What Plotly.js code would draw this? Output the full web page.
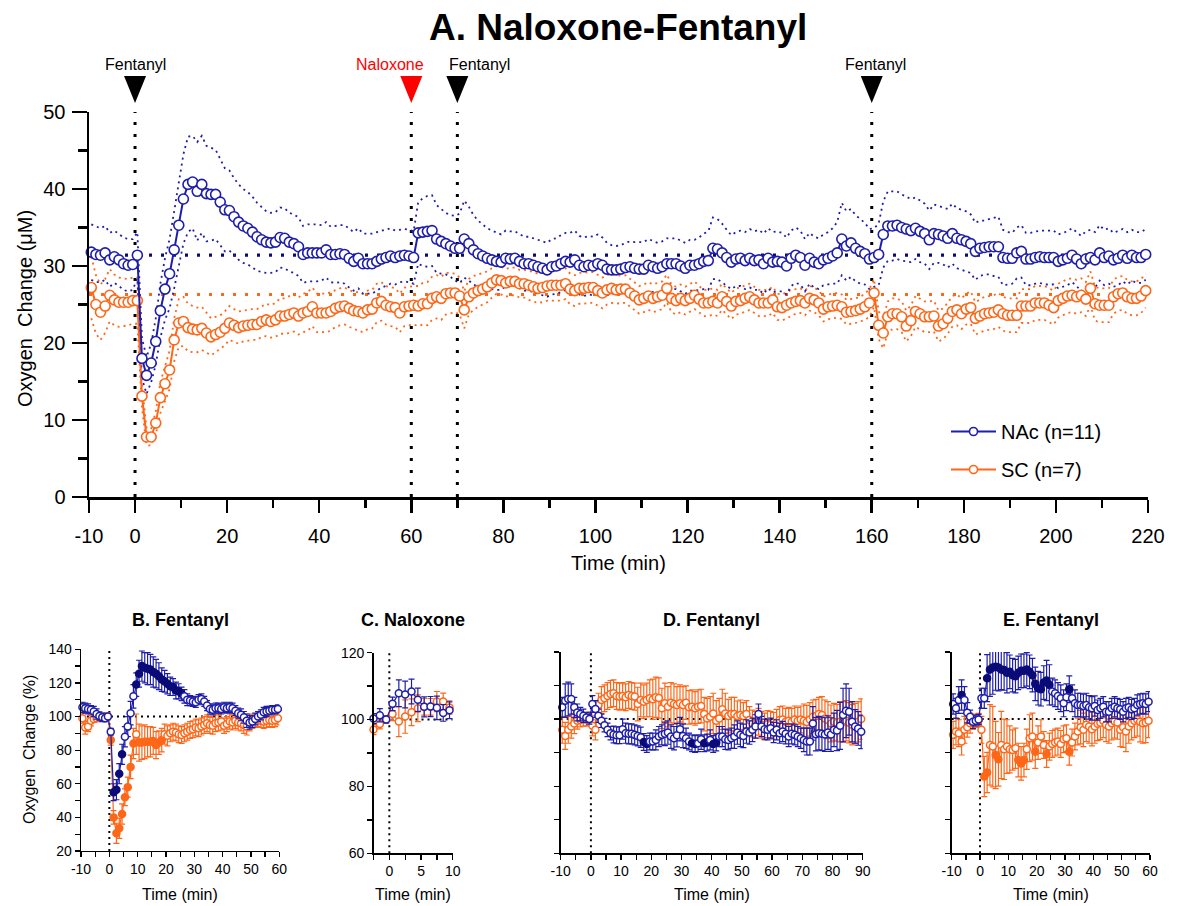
<!DOCTYPE html>
<html><head><meta charset="utf-8">
<script src="https://cdn.plot.ly/plotly-3.0.1.min.js"></script>
<style>html,body{margin:0;padding:0;background:#fff}#chart{width:1178px;height:906px}</style>
</head><body><div id="chart"></div>
<script>
// ---------------- DATA ----------------
// Main panel A: one sample per minute, first sample at -9.5 min
const mainStart = -9.5;
const nacMean = [
31.8,31.5,31.4,31.7,30.8,31.2,30.8,30.3,30.1,30.2,
31.4,18.0,15.8,17.4,20.2,24.2,27.0,29.0,32.1,35.3,
38.7,40.6,40.9,39.7,40.6,39.4,39.3,39.3,38.3,37.3,
37.2,36.4,35.7,35.2,34.9,34.4,33.8,33.4,33.1,33.0,
33.1,33.7,33.6,33.1,32.9,32.5,31.5,31.7,31.7,31.7,
31.7,32.1,31.5,31.5,31.6,31.5,31.0,30.6,31.0,30.3,
30.3,30.3,30.6,30.9,31.1,31.3,31.1,31.3,31.4,31.3,
31.1,34.3,34.4,34.5,34.6,33.5,33.2,32.9,32.6,32.3,
32.3,33.5,32.9,32.1,31.6,31.3,31.0,30.8,30.6,30.5,
31.0,30.9,31.0,30.6,30.3,30.3,30.1,29.9,29.7,29.5,
29.9,30.0,30.3,30.6,30.5,30.8,30.1,29.9,30.1,30.0,
30.3,30.1,29.6,29.5,29.5,29.6,29.8,29.9,29.7,29.6,
29.6,30.1,29.9,29.7,29.9,30.3,30.3,30.3,30.0,29.7,
30.1,30.1,30.3,30.6,30.7,32.3,32.2,31.7,31.1,30.5,
30.9,31.0,30.7,31.0,30.7,30.8,30.3,31.0,30.5,30.6,
30.5,30.0,31.0,31.4,31.1,30.1,31.0,30.5,30.3,30.8,
31.0,31.3,31.7,33.5,32.6,33.0,32.3,31.9,31.6,30.9,
31.1,31.5,34.1,35.2,35.2,35.3,35.0,34.8,34.6,34.9,
34.5,34.2,33.4,34.2,34.1,33.9,33.6,34.2,33.6,33.4,
33.2,32.9,31.9,32.3,32.4,32.5,32.5,32.5,31.1,31.0,
31.0,31.7,31.9,30.9,30.9,31.1,31.2,31.1,31.1,31.1,
30.6,30.8,31.0,31.4,30.9,30.3,30.9,31.1,30.8,31.7,
31.1,31.3,30.8,31.0,31.4,31.0,31.4,31.1,31.1,31.5];
const nacSem = [
3.6,3.6,3.5,3.5,3.5,3.4,3.4,3.4,3.4,3.3,
3.0,2.6,2.4,2.5,3.0,3.5,4.0,4.5,5.0,5.5,
5.8,6.2,6.0,6.4,6.3,6.2,6.0,5.8,5.6,5.4,
5.2,5.0,4.9,4.8,4.7,4.6,4.4,4.2,4.0,3.9,
3.9,3.9,3.9,3.8,3.8,3.8,3.7,3.7,3.7,3.7,
3.6,3.6,3.6,3.7,3.7,3.8,3.8,3.8,3.9,3.9,
3.9,3.9,3.8,3.7,3.7,3.6,3.5,3.4,3.4,3.4,
3.4,4.0,4.4,4.6,4.6,4.4,4.2,4.0,4.0,4.2,
4.5,5.0,4.8,4.5,4.3,4.1,3.9,3.8,3.7,3.6,
3.6,3.6,3.5,3.5,3.5,3.5,3.5,3.5,3.5,3.5,
3.6,3.6,3.7,3.7,3.8,3.8,3.8,3.8,3.8,3.8,
3.8,3.6,3.4,3.2,3.1,3.1,3.2,3.3,3.4,3.5,
3.5,3.4,3.3,3.3,3.3,3.3,3.3,3.3,3.3,3.3,
3.3,3.3,3.4,3.6,3.8,4.0,3.9,3.8,3.6,3.5,
3.5,3.6,3.7,3.8,3.8,3.9,3.9,3.9,3.9,3.9,
3.8,3.7,3.6,3.6,3.5,3.4,3.3,3.3,3.3,3.3,
3.4,3.6,4.0,4.7,4.5,4.4,4.3,4.2,4.0,3.9,
3.8,4.0,4.3,4.5,4.5,4.4,4.3,4.2,4.1,4.0,
4.0,3.9,3.8,3.8,3.7,3.7,3.8,3.9,3.9,3.9,
3.9,3.8,3.7,3.6,3.5,3.6,3.8,3.9,3.6,3.4,
3.3,3.3,3.4,3.4,3.4,3.4,3.4,3.5,3.5,3.5,
3.5,3.5,3.5,3.5,3.5,3.6,3.6,3.6,3.6,3.6,
3.6,3.6,3.5,3.5,3.4,3.4,3.3,3.3,3.3,3.3];
const scMean = [
27.2,25.0,24.0,24.8,26.2,25.6,25.3,25.3,25.3,25.5,
25.5,13.1,7.8,7.8,9.6,12.9,14.7,16.5,20.4,22.6,
22.8,22.0,21.8,21.7,21.9,21.3,20.8,21.1,21.4,21.9,
22.6,22.3,22.0,22.2,22.3,22.4,22.4,22.8,23.0,22.8,
23.0,23.5,23.5,23.7,23.9,23.5,23.9,24.1,24.7,23.9,
23.9,23.9,24.1,24.5,24.7,24.8,24.5,24.2,24.1,23.9,
24.3,24.4,25.2,25.4,24.9,24.7,24.6,23.9,24.7,24.8,
24.9,24.8,25.1,25.1,25.8,26.0,25.8,26.4,26.5,26.5,
26.1,24.3,26.0,26.5,26.8,27.0,27.3,27.8,28.2,28.1,
27.8,28.0,28.0,27.7,27.7,27.5,27.3,27.1,27.2,27.4,
27.5,27.5,27.5,27.7,27.0,26.8,27.1,27.1,27.2,27.2,
26.8,26.5,26.9,27.1,26.9,27.0,27.0,26.5,26.1,25.6,
25.8,26.1,25.8,26.0,26.2,27.1,25.8,25.5,25.8,25.5,
25.8,26.2,25.7,25.2,25.2,25.4,25.2,26.0,25.4,24.8,
25.4,25.5,25.8,26.0,25.6,25.2,25.2,25.2,25.6,24.7,
24.6,24.9,25.2,25.4,25.5,25.2,25.8,25.6,25.2,24.4,
24.7,24.8,24.9,24.7,24.0,24.1,24.2,24.4,24.7,25.2,
26.5,22.3,21.3,23.4,23.8,23.8,23.4,22.2,22.9,24.1,
23.8,23.4,23.4,23.5,22.2,22.5,23.2,24.1,24.3,23.8,
24.4,24.6,23.2,23.5,23.8,23.9,24.0,24.3,23.8,23.6,
23.6,23.6,24.8,24.8,24.8,25.2,25.2,25.2,24.9,24.6,
25.5,25.8,26.1,26.2,26.0,26.2,25.7,27.1,25.1,24.9,
24.9,24.9,26.0,26.4,26.5,26.0,25.8,25.8,26.1,26.8];
const scSem = [
4.0,3.8,3.6,3.5,3.4,3.3,3.2,3.1,3.0,3.0,
3.0,1.5,1.1,1.1,1.5,2.0,2.2,2.5,2.8,3.1,
3.2,3.1,3.0,2.9,2.8,2.6,2.4,2.3,2.2,2.2,
2.2,2.1,2.1,2.0,2.0,2.0,2.0,2.0,2.1,2.1,
2.2,2.3,2.3,2.4,2.4,2.4,2.5,2.5,2.5,2.5,
2.5,2.5,2.5,2.4,2.4,2.4,2.4,2.4,2.5,2.5,
2.5,2.5,2.5,2.5,2.5,2.5,2.5,2.5,2.5,2.5,
2.5,2.6,2.7,2.8,2.8,2.8,2.8,2.7,2.6,2.5,
2.4,2.4,2.3,2.2,2.1,2.0,2.0,1.9,1.8,1.8,
1.8,1.8,1.8,1.8,1.8,1.9,1.9,1.9,1.9,1.9,
2.0,2.0,2.0,2.0,2.0,2.0,2.0,2.0,2.0,2.0,
2.0,2.0,1.9,1.9,1.8,1.8,1.8,1.8,1.8,1.8,
1.8,1.8,1.8,1.8,1.8,1.8,1.8,1.8,1.8,1.8,
1.8,1.8,1.7,1.7,1.7,1.7,1.7,1.7,1.7,1.7,
1.7,1.7,1.7,1.7,1.7,1.7,1.7,1.7,1.7,1.7,
1.7,1.7,1.7,1.6,1.6,1.6,1.6,1.6,1.6,1.6,
1.6,1.6,1.6,1.6,1.6,1.6,1.6,1.6,1.7,1.8,
1.8,1.8,2.0,2.0,2.0,2.0,2.0,2.0,2.0,2.0,
2.0,2.0,2.0,2.0,2.0,2.0,2.0,2.0,2.0,2.0,
2.0,2.1,2.1,2.1,2.2,2.2,2.2,2.2,2.2,2.2,
2.2,2.2,2.2,2.2,2.2,2.2,2.2,2.2,2.2,2.2,
2.2,2.2,2.2,2.2,2.2,2.2,2.2,2.2,2.2,2.2,
2.2,2.2,2.2,2.2,2.2,2.2,2.2,2.2,2.2,2.2];
const nacBaseline = 31.4;
const scBaseline = 26.3;
const seriesNames = ['NAc (n=11)', 'SC (n=7)'];
const eventTimes = [0, 60, 70, 160];
const eventLabels = ['Fentanyl', 'Naloxone', 'Fentanyl', 'Fentanyl'];
const mainXTicks = [-10,0,20,40,60,80,100,120,140,160,180,200,220];
const mainXMinor = [10,30,50,70,90,110,130,150,170,190,210];

// Panel B (fentanyl 1), % change, first sample at -9.5 min
const bStart = -9.5;
const bNac = [105.5,105,104.5,104,103,101.5,100.3,99.5,99,100,
 91,55,56.5,66,77.5,88,94,102,112,119,
 125.5,130,129,128.5,128,126.5,125.5,124,122,121,
 119.5,118,117.5,115.5,115,113.5,112,110,109.5,109,
 108.5,110,110.5,109,106.5,104.5,104,105,105,104.5,
 105.5,105,105.5,105,103.5,102,101,99.5,97.5,96.5,
 97,98.5,100,101,102.5,103,103.5,104,104,104.5];
const bNacSem = [3,3,3,2.5,3,3,2.5,2.5,2,1.5,
 2,5,6,6,6,6,6,7,7,7,
 8,9,9,9.5,9,9,8.5,8,7,6.5,
 6,5.5,5,5,4.5,4,4,3.5,3,3,
 3,3,3,3,3,3,3,3,3,3,
 3,3,3,3,3,3,3.5,3.5,4,4,
 3.5,3.5,3,3,3,3,2.5,2.5,2.5,2.5];
const bSc = [99,93.5,94,97.5,98.5,99,99.5,99.5,100,100,
 86,40,30.5,33.5,42,52,58,70,84,89.5,
 84.5,84.5,85,85,85,85.5,83,84.5,86,89.5,
 88.5,90,91,90.5,89.5,89,90,91,92,92.5,
 93.5,93,94,95,96,95,94.5,96,96.5,97,
 94.5,95.5,97,96.5,97.5,96.5,96,95,94,96.5,
 97,97.5,98,97.5,97,97.5,98,97.5,98,99];
const bScSem = [3,4,3,3,2,2,2,2,2,2,
 3,4,6,6,6,5,6,7,9,12,
 11,10,10,9,9,8,8,7,7,6,
 6,5,5,5,5,5,5,5,5,5,
 5,5,5,5,5,5,5,5,5,5,
 4.5,4.5,4.5,4.5,4.5,4.5,4.5,5,5,5,
 4,4,4,4,4,4,4,4,4,4];
const bNacSigTimes = [1.5,2.5,3.5,4.5,9.5,10.5,11.5,12.5,13.5,14.5,15.5,16.5,17.5,18.5,19.5,20.5,21.5,22.5,23.5,24.5,25.5];
const bScSigTimes = [0.5,1.5,2.5,3.5,4.5,5.5,6.5,7.5,8.5,10.5,11.5,12.5,13.5,14.5,15.5,16.5,17.5,18.5];

// Panel C (naloxone), first sample at -2.5 min
const cStart = -2.5;
const cNac = [100.3,101.3,100,104.7,107.9,107.5,108.4,105.9,103.8,103.9,103.5,102,102.8];
const cNacSem = [1.5,2,1,2,4,4,3.7,3.5,3,3,3.5,2.5,2.5];
const cSc = [97,98.7,100,101.7,99.4,100.9,102.2,103.4,103.8,103.8,105.4,105.4,103.6];
const cScSem = [1.5,1.5,1,2,4.5,5,4,4,2.5,2.5,3,2.5,2];

// Panel D (fentanyl 2), first sample at -9.5 min
const dStart = -9.5;
const dNac = [103.5,105.5,106,106,103.5,102,101.5,101,100.5,100,
 104.5,103,101,99.5,98.2,96.8,95.8,95.4,95.2,95.2,
 97,95.8,95.6,95.6,95.3,95,94.6,93.2,92.6,93.3,
 93.3,93.8,94.8,95.3,95.6,96,94.8,94.3,95.2,97,
 95,94.3,93.3,92.8,92.6,92.8,94,92.8,93,93.8,
 92.6,93,94.8,94.8,94,93.8,94.3,94.8,96,95.3,
 95,96.3,96,96.8,97.8,101.5,97.8,97,96.8,97.3,
 96,96.8,95.8,96.3,95.6,94.8,95.6,95.3,94.8,94.3,
 93.8,93.3,93.3,98.7,95.5,95.8,95.6,95.4,96,95.4,
 96.8,96.6,98,101.2,102.5,102.2,99.2,97.8,97.2,96.2];
const dNacSem = [3,5,5,4.5,3,2.5,2,2,1.5,1.5,
 2.5,2.5,2,2,2,2,2,2.5,2.5,2.5,
 3,3,3,3,3,3,3,2.5,2.5,2.5,
 2.5,3,3,3,3.5,3.5,3.5,3.5,3.5,3.5,
 3.5,3,2.5,2.5,2.5,2.5,3,2.5,2.5,3,
 2.5,2.5,3,3,3,3,3,3.5,3.5,3.5,
 3.5,3.5,3.5,3.5,3.5,3,3,3,3,3,
 3,3,3,3,3,3,3,3,3,3,
 3.5,4,4,5,5,5,5,5,5,5,
 5,6,7,8,8,7,6,5,5,5];
const dSc = [96.8,95,96.8,97.8,98.7,99.5,99.7,99.9,99.9,100.1,
 98,96.8,104.2,105.7,106.2,106.9,107.5,107.7,106.9,106.7,
 106.9,106.5,107.2,106.9,106.7,104.5,105.7,105.2,105.7,106.2,
 105.9,106.5,106.3,103.2,104.7,103.7,104.9,104.5,104.2,104.7,
 104.2,104.9,103.5,103.7,103.2,103.7,103.9,101.5,100.2,100.7,
 101.7,99.5,100.2,102.9,101.7,100.9,101.5,101.5,100.9,101.2,
 100.9,101.5,99.7,98.7,98.3,99.2,98.3,97.8,98.5,98.3,
 98,98.9,99.7,99.9,99.2,99.5,99.2,99.9,99.5,99.9,
 99.5,99.1,99.9,100.7,100.9,101.5,101.2,100.2,99.7,98.7,
 99.2,98.9,99.2,99.2,99.5,98.9,98.3,98.7,99.2,100];
const dScSem = [4,4,4,3.5,3,2.5,2,2,2,2,
 3,3,3.5,4,4,4,4,4,4,4,
 4,4,4,4,4,5,5,5,5,5.5,
 6,6,6,6,6,6,6,6,5.5,5.5,
 5.5,5,5,5,5,5,5,5,6,6,
 6,6,6,6,6,5,5,5,4.5,4.5,
 4,4,4,4,4,4,4,4,4,4,
 4,4,4,4,4,4,4,4,4,4,
 5,5,5,5,5,5,5.5,5.5,5.5,5.5,
 5.5,5.5,6,6,6,6,6,6,6,6];
const dNacSigTimes = [17.5,18.5,33.5,34.5,37.5,38.5,40.5,41.5];
const dScSigTimes = [];

// Panel E (fentanyl 3), first sample at -9.5 min
const eStart = -9.5;
const eNac = [104.5,103.2,105.7,107.2,105.7,101.9,100.7,99.2,99.5,99.9,
 106.2,106.2,112.2,114.8,115.4,115.6,115.4,114.8,114.6,113.8,
 114.1,113.1,112.8,113.8,114.4,114.4,114.8,114.1,113.1,110.5,
 109.2,108.9,110.9,111.5,110.2,108.2,107.7,106.9,106.2,104.7,
 106.5,108.9,106.2,104.7,104.2,104.2,103.9,104.2,103.5,103.2,
 103.9,102.7,103.2,103.7,102.2,102.2,103.2,103.7,103.2,102.9,
 102.2,103.2,103.5,102.9,103.2,104.2,104.5,104.7,104.5,105.2];
const eNacSem = [3,3,4,4.5,4,3,2,2,1.5,1.5,
 3,3,7,8,8,7,7,6,6,6,
 5,5,5,5,5,5,5,5,5,5,
 5,5,5,6,6,4,4,4,4,4,
 4,4,4,4,3.5,3.5,3.5,3.5,3.5,3.5,
 3,3,3,3,3,3,3,3,3,3,
 3,3,3,3,3,3,3,3,3,3];
const eSc = [95.3,96.3,95.8,93.3,96.8,97.6,98.8,98.9,99.5,99.7,
 96.8,82.9,84.1,92.3,91.8,89.3,88.0,92.3,91.0,91.8,
 91.0,90.8,91.3,87.8,86.8,87.8,91.0,94.3,94.8,90.3,
 93.0,94.8,92.3,89.6,91.8,92.6,93.0,93.3,92.6,94.0,
 94.3,90.3,93.0,94.8,96.3,97.6,96.8,98.3,97.8,97.0,
 97.8,98.6,98.9,99.5,98.3,97.8,98.8,99.3,99.0,96.8,
 97.6,96.3,97.8,98.8,99.5,99.9,99.2,98.8,99.0,99.5];
const eScSem = [4,4,4,4,4,3,3,2,2,2,
 4,6,6,12,12,10,8,10,9,8,
 7,6,6,5,5,5,6,7,7,5,
 5,5,4,4,4,4,4,4,4,4,
 4,4,4,4,4,5,5,5,5,5,
 5,5,5,5,5,5,5,5,5,5,
 6,6,5,5,5,5,6,6,6,5];
const eNacSigTimes = [-6.5,2.5,3.5,4.5,5.5,6.5,7.5,8.5,9.5,10.5,11.5,12.5,13.5,14.5,15.5,16.5,17.5,18.5,19.5,20.5,21.5,22.5,23.5,24.5,31.5];
const eScSigTimes = [1.5,2.5,5.5,6.5,13.5,14.5,15.5,19.5,23.5,31.5];

// ---------------- DRAWING ----------------
const W = 1178, H = 906;
const BLUE = '#1e1eaa', NAVY = '#0b0b78', ORANGE = '#ff6718', RED = '#ff0000';
const FONT = '"Liberation Sans", Arial, sans-serif';
const timeAxis = (start, n) => Array.from({length: n}, (_, i) => start + i);
const domX = (a, b) => [a / W, b / W];
const domY = (top, bottom) => [(H - bottom) / H, (H - top) / H];
const py = v => (H - v) / H;

const tMain = timeAxis(mainStart, nacMean.length);
const traces = [];
function band(mean, sem, color, sign) {
  return {type: 'scatter', mode: 'lines', x: tMain, y: mean.map((m, i) => m + sign * sem[i]),
    xaxis: 'x', yaxis: 'y', showlegend: false, hoverinfo: 'skip',
    line: {color: color, width: 1.8, dash: '2px,4px'}};
}
traces.push(band(scMean, scSem, ORANGE, 1), band(scMean, scSem, ORANGE, -1));
traces.push(band(nacMean, nacSem, BLUE, 1), band(nacMean, nacSem, BLUE, -1));
function meanTrace(mean, color) {
  return {type: 'scatter', mode: 'lines+markers', x: tMain, y: mean, showlegend: false,
    xaxis: 'x', yaxis: 'y', cliponaxis: false,
    line: {color: color, width: 2},
    marker: {symbol: 'circle', size: 10, color: 'white', line: {color: color, width: 1.6}}};
}
traces.push(meanTrace(scMean, ORANGE));
traces.push(meanTrace(nacMean, BLUE));
// legend entries (same series, legend-sized symbol)
function legendEntry(color, name, grp) {
  return {type: 'scatter', mode: 'lines+markers', x: [null], y: [null], name: name, legendgroup: grp,
    xaxis: 'x', yaxis: 'y', line: {color: color, width: 2},
    marker: {symbol: 'circle', size: 8, color: 'white', line: {color: color, width: 1.6}}};
}
traces.push(legendEntry(BLUE, seriesNames[0], 'g1'));
traces.push(legendEntry(ORANGE, seriesNames[1], 'g2'));

function subTrace(ax, start, vals, sem, sigTimes, color, fill) {
  const t = timeAxis(start, vals.length);
  const sig = t.map(v => sigTimes.indexOf(v) >= 0);
  return {type: 'scatter', mode: 'lines+markers', x: t, y: vals,
    xaxis: 'x' + ax, yaxis: 'y' + ax, showlegend: false, cliponaxis: false,
    line: {color: color, width: 1.2},
    marker: {symbol: 'circle', size: 7, color: sig.map(s => s ? fill : 'white'),
      line: {color: sig.map(s => s ? fill : color), width: 1.5}},
    error_y: {type: 'data', array: sem, visible: true, color: color, thickness: 1.2, width: 3}};
}
traces.push(subTrace(2, bStart, bSc, bScSem, bScSigTimes, ORANGE, ORANGE));
traces.push(subTrace(2, bStart, bNac, bNacSem, bNacSigTimes, BLUE, NAVY));
traces.push(subTrace(3, cStart, cSc, cScSem, [], ORANGE, ORANGE));
traces.push(subTrace(3, cStart, cNac, cNacSem, [], BLUE, NAVY));
traces.push(subTrace(4, dStart, dSc, dScSem, dScSigTimes, ORANGE, ORANGE));
traces.push(subTrace(4, dStart, dNac, dNacSem, dNacSigTimes, BLUE, NAVY));
traces.push(subTrace(5, eStart, eSc, eScSem, eScSigTimes, ORANGE, ORANGE));
traces.push(subTrace(5, eStart, eNac, eNacSem, eNacSigTimes, BLUE, NAVY));

// shapes
const shapes = [];
const eventColors = eventLabels.map(l => l === 'Naloxone' ? RED : '#000');
eventTimes.forEach((t, i) => {
  shapes.push({type: 'line', xref: 'x', yref: 'y', x0: t, x1: t, y0: 0, y1: 50, layer: 'below',
    line: {color: '#000', width: 3, dash: '3px,9px'}});
  const hw = 11 / 4.6;
  shapes.push({type: 'path', xref: 'x', yref: 'paper',
    path: `M ${t - hw},${py(76)} L ${t + hw},${py(76)} L ${t},${py(103)} Z`,
    fillcolor: eventColors[i], line: {width: 0}});
});
shapes.push({type: 'line', xref: 'x', yref: 'y', x0: -10, x1: 220, y0: nacBaseline, y1: nacBaseline, layer: 'below',
  line: {color: NAVY, width: 3.2, dash: '3px,9px'}});
shapes.push({type: 'line', xref: 'x', yref: 'y', x0: -10, x1: 220, y0: scBaseline, y1: scBaseline, layer: 'below',
  line: {color: ORANGE, width: 3.2, dash: '3px,9px'}});
const subRanges = {2: {x: [-10, 60], y: [20, 140]}, 3: {x: [-2.5, 10], y: [60, 120]},
  4: {x: [-10, 90], y: [60, 120]}, 5: {x: [-10, 60], y: [60, 120]}};
Object.keys(subRanges).forEach(k => {
  const r = subRanges[k];
  shapes.push({type: 'line', xref: 'x' + k, yref: 'y' + k, x0: 0, x1: 0, y0: r.y[0], y1: r.y[1], layer: 'below',
    line: {color: '#000', width: 2, dash: '2px,4px'}});
  shapes.push({type: 'line', xref: 'x' + k, yref: 'y' + k, x0: r.x[0], x1: r.x[1], y0: 100, y1: 100, layer: 'below',
    line: {color: '#000', width: 2, dash: '2px,4px'}});
});

// annotations
const ann = [];
const txt = (text, x, y, size, opts) => Object.assign({text: text, x: x / W, y: py(y), xref: 'paper', yref: 'paper',
  showarrow: false, xanchor: 'center', yanchor: 'middle', font: {family: FONT, size: size, color: '#000'}}, opts || {});
ann.push(txt('<b>A. Naloxone-Fentanyl</b>', 618, 27, 37));
ann.push(txt('Time (min)', 618, 563, 20));
ann.push(txt('Oxygen\u00a0 Change (\u03bcM)', 25, 309, 20, {textangle: -90}));
const eventShift = [0, -21, 22, 4];
eventTimes.forEach((t, i) => {
  ann.push({text: eventLabels[i], x: t, xref: 'x', y: py(64), yref: 'paper', xshift: eventShift[i],
    showarrow: false, xanchor: 'center', yanchor: 'middle', font: {family: FONT, size: 16, color: eventColors[i]}});
});
const subTitles = ['B. Fentanyl', 'C. Naloxone', 'D. Fentanyl', 'E. Fentanyl'];
const subCenters = [180, 413, 711.7, 1051];
subTitles.forEach((s, i) => {
  ann.push(txt('<b>' + s + '</b>', subCenters[i], 620, 18));
  ann.push(txt('Time (min)', subCenters[i], 894, 16));
});
ann.push(txt('Oxygen\u00a0 Change (%)', 29, 750, 16, {textangle: -90}));

// axes
const mainAxisBase = {showline: true, linecolor: '#000', linewidth: 2.5, ticks: 'outside', tickcolor: '#000',
  tickwidth: 2.5, showgrid: false, zeroline: false, tickfont: {family: FONT, size: 20, color: '#000'}, fixedrange: true};
const subAxisBase = {showline: true, linecolor: '#000', linewidth: 1.3, ticks: 'outside', tickcolor: '#000',
  tickwidth: 1.3, ticklen: 5, showgrid: false, zeroline: false, tickfont: {family: FONT, size: 14, color: '#000'}, fixedrange: true};
function sx(dom, range, tv, tt, anchor) {
  return Object.assign({}, subAxisBase, {domain: dom, range: range, tickmode: 'array', tickvals: tv, ticktext: tt, anchor: anchor});
}
const bXT = [-10,-5,0,5,10,15,20,25,30,35,40,45,50,55,60];
const bXL = bXT.map(v => v % 10 === 0 ? String(v) : '');
const bYT = [20,30,40,50,60,70,80,90,100,110,120,130,140];
const bYL = bYT.map(v => v % 20 === 0 ? String(v) : '');
const cXT = [-2.5,0,2.5,5,7.5,10];
const cXL = cXT.map(v => Number.isInteger(v) && v % 5 === 0 ? String(v) : '');
const pYT = [60,70,80,90,100,110,120];
const cYL = pYT.map(v => v % 20 === 0 ? String(v) : '');
const blankY = pYT.map(() => '');
const dXT = [-10,-5,0,5,10,15,20,25,30,35,40,45,50,55,60,65,70,75,80,85,90];
const dXL = dXT.map(v => v % 10 === 0 ? String(v) : '');

const layout = {
  width: W, height: H, margin: {l: 0, r: 0, t: 0, b: 0},
  paper_bgcolor: '#fff', plot_bgcolor: 'rgba(0,0,0,0)',
  font: {family: FONT, color: '#000'},
  showlegend: true,
  legend: {x: 946 / W, y: py(412), xanchor: 'left', yanchor: 'top', bgcolor: 'rgba(0,0,0,0)',
    font: {family: FONT, size: 20, color: '#000'}, tracegroupgap: 9, traceorder: 'grouped', itemwidth: 45},
  xaxis: Object.assign({}, mainAxisBase, {domain: domX(89, 1148), range: [-10, 220], anchor: 'y', ticklen: 13,
    tickmode: 'array', tickvals: mainXTicks, ticktext: mainXTicks.map(String), ticklabelstandoff: 6,
    minor: {tickmode: 'array', tickvals: mainXMinor, ticklen: 8, tickwidth: 2.5, tickcolor: '#000', ticks: 'outside'}}),
  yaxis: Object.assign({}, mainAxisBase, {domain: domY(112, 497), range: [0, 50], anchor: 'x', ticklen: 15,
    tickmode: 'linear', tick0: 0, dtick: 10, ticklabelstandoff: 2,
    minor: {tickmode: 'linear', tick0: 0, dtick: 5, ticklen: 9, tickwidth: 2.5, tickcolor: '#000', ticks: 'outside'}}),
  xaxis2: sx(domX(81, 279.3), [-10, 60], bXT, bXL, 'y2'),
  yaxis2: sx(domY(649.3, 851), [20, 140], bYT, bYL, 'x2'),
  xaxis3: sx(domX(373.5, 452.7), [-2.5, 10], cXT, cXL, 'y3'),
  yaxis3: sx(domY(652.7, 853.3), [60, 120], pYT, cYL, 'x3'),
  xaxis4: sx(domX(560.7, 862.7), [-10, 90], dXT, dXL, 'y4'),
  yaxis4: sx(domY(652, 853.3), [60, 120], pYT, blankY, 'x4'),
  xaxis5: sx(domX(951.7, 1150), [-10, 60], bXT, bXL, 'y5'),
  yaxis5: sx(domY(652, 853.3), [60, 120], pYT, blankY, 'x5'),
  shapes: shapes, annotations: ann
};
Plotly.newPlot('chart', traces, layout, {displayModeBar: false, staticPlot: true});
</script>
</body></html>
